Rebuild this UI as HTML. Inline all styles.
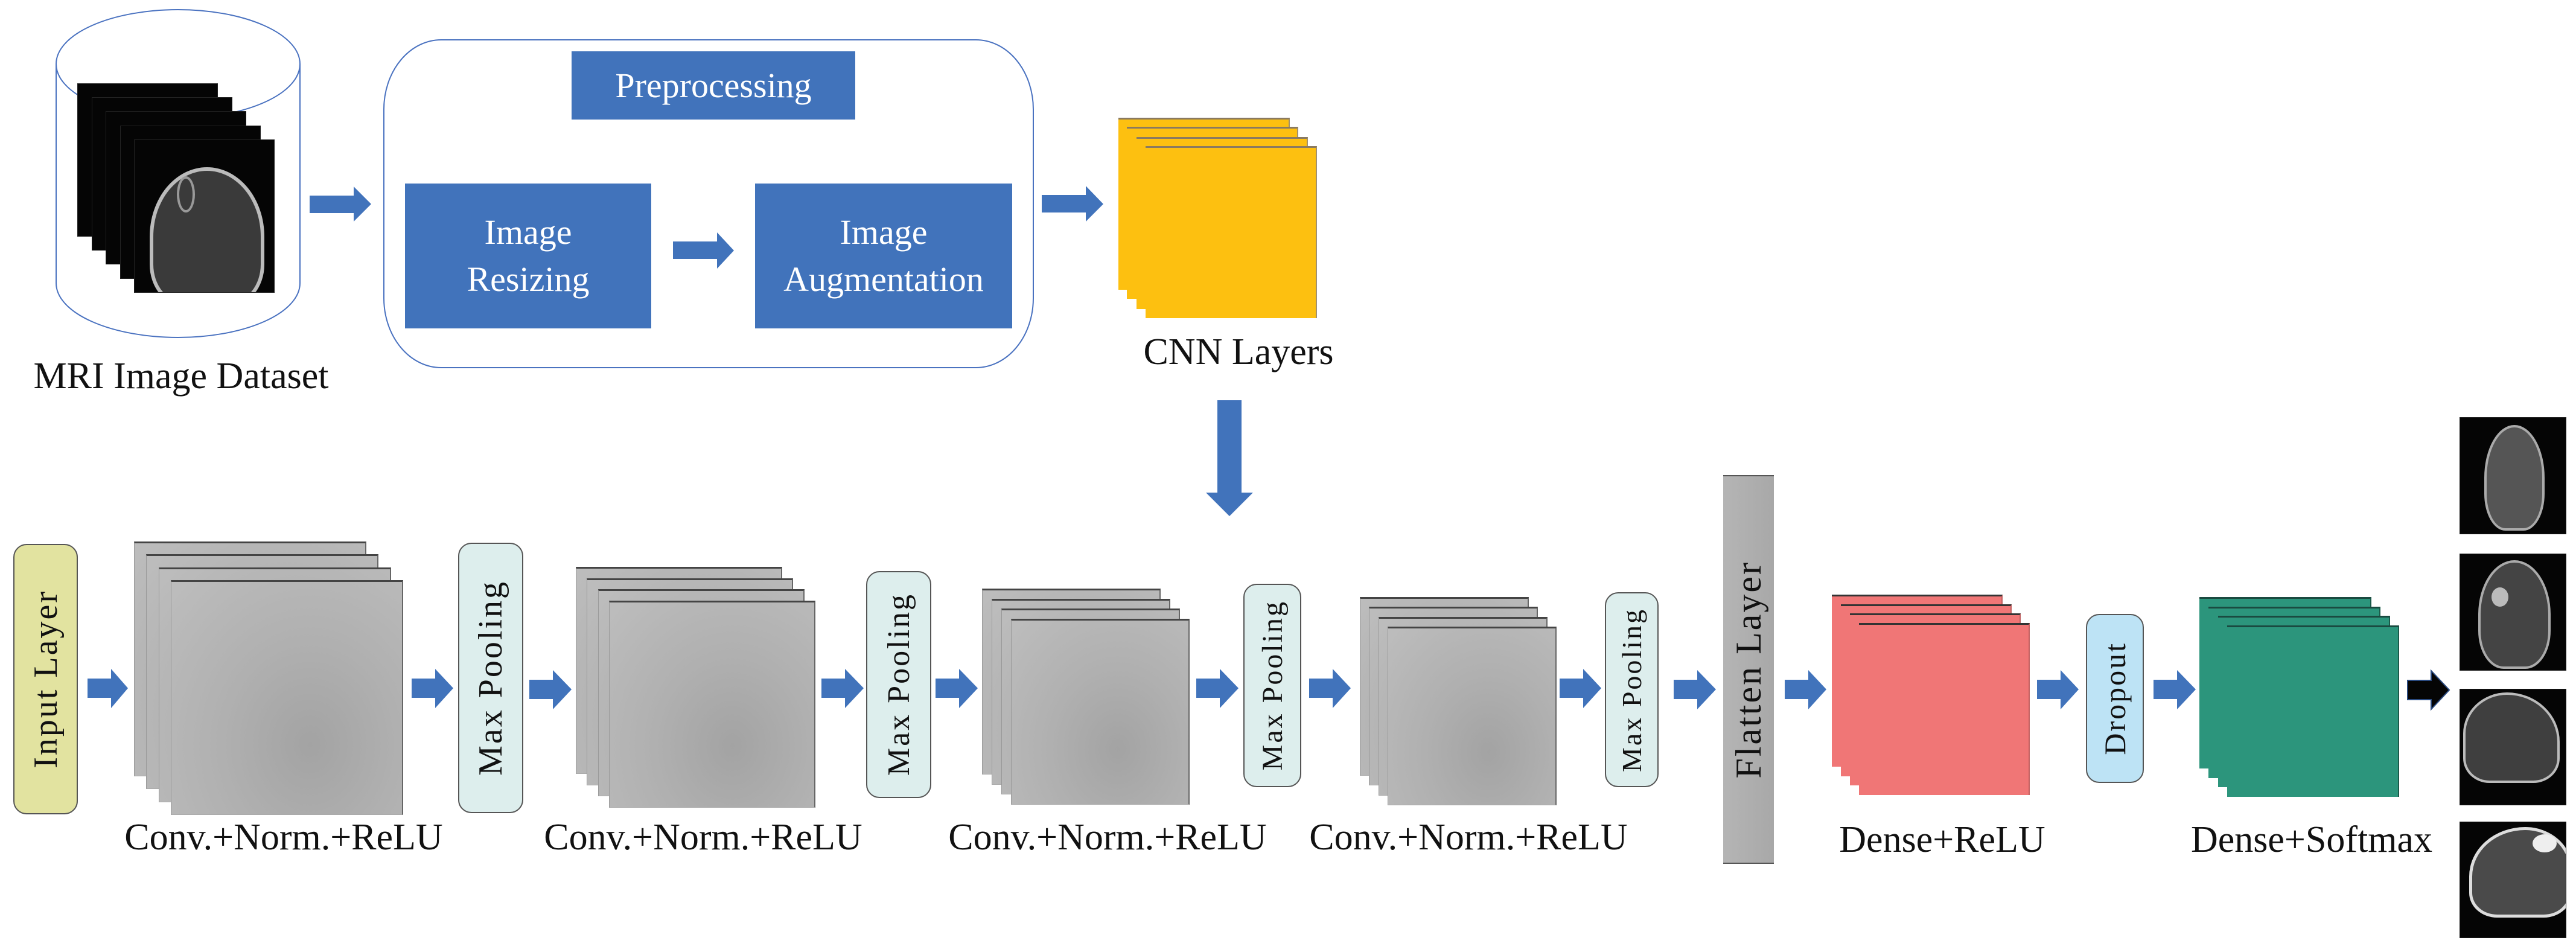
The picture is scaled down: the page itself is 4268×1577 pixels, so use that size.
<!DOCTYPE html>
<html><head><meta charset="utf-8"><style>
*{margin:0;padding:0;box-sizing:border-box}
body{width:4268px;height:1577px;background:#fff;position:relative;overflow:hidden;font-family:"Liberation Serif","Times New Roman","DejaVu Serif",serif}
.a{position:absolute}
.sg{position:absolute;background:radial-gradient(ellipse at 60% 70%,#a3a3a3 0%,#b0b0b0 45%,#bdbdbd 100%);border-top:3px solid #444;border-right:2px solid #666;border-left:1px solid #999;border-bottom:1px solid #aaa}
.sy{position:absolute;background:#fdc010;border-top:3px solid #8a7a60;border-right:2px solid #a09070}
.sr{position:absolute;background:#f07676;border-top:3px solid #333;border-right:2px solid #c06060}
.sn{position:absolute;background:#2c957c;border-top:3px solid #1a4a40;border-right:2px solid #1a5a4a}
.mri{position:absolute;background:#050505;border:1px solid #222;overflow:hidden}
.lbl{position:absolute;font-size:62px;color:#111;white-space:nowrap;text-align:center;font-family:"Liberation Serif","Times New Roman","DejaVu Serif",serif}
.blue{position:absolute;background:#4173bb;color:#fff;display:flex;align-items:center;justify-content:center;text-align:center;font-size:58px;line-height:78px;font-family:"Liberation Serif","DejaVu Serif",serif}
.vt{position:absolute;display:flex;align-items:center;justify-content:center;border:2px solid #555;border-radius:22px}
.vt span{writing-mode:vertical-rl;transform:rotate(180deg);white-space:nowrap;color:#111;letter-spacing:3px;font-family:"Liberation Serif","DejaVu Serif",serif}
</style></head><body>

<svg class="a" style="left:0;top:0" width="4268" height="1577">
<ellipse cx="295" cy="106" rx="202" ry="90" fill="none" stroke="#4a72c0" stroke-width="2"/>
<path d="M93 106 L93 469 A202 90 0 0 0 497 469 L497 106" fill="none" stroke="#4a72c0" stroke-width="2"/>
<rect x="636" y="66" width="1076" height="543" rx="95" ry="115" fill="none" stroke="#4a72c0" stroke-width="2"/>
<g fill="#4173bb">
<polygon points="513,324 586,324 586,309 615,338 586,367 586,353 513,353"/>
<polygon points="1115,400 1188,400 1188,385 1216,415 1188,445 1188,429 1115,429"/>
<polygon points="1726,323 1799,323 1799,308 1828,338 1799,367 1799,352 1726,352"/>
<polygon points="2017,663 2057,663 2057,816 2076,816 2037,855 1998,816 2017,816"/>
</g>
<g fill="#4173bb">
<polygon points="145,1124 184,1124 184,1108 212,1140 184,1173 184,1156 145,1156"/>
<polygon points="682,1124 721,1124 721,1108 751,1140 721,1173 721,1156 682,1156"/>
<polygon points="877,1126 916,1126 916,1110 947,1142 916,1175 916,1158 877,1158"/>
<polygon points="1361,1124 1400,1124 1400,1108 1431,1140 1400,1173 1400,1156 1361,1156"/>
<polygon points="1550,1124 1589,1124 1589,1108 1620,1140 1589,1173 1589,1156 1550,1156"/>
<polygon points="1982,1124 2021,1124 2021,1108 2052,1140 2021,1173 2021,1156 1982,1156"/>
<polygon points="2169,1124 2208,1124 2208,1108 2238,1140 2208,1173 2208,1156 2169,1156"/>
<polygon points="2584,1124 2623,1124 2623,1108 2653,1140 2623,1173 2623,1156 2584,1156"/>
<polygon points="2773,1126 2812,1126 2812,1110 2843,1142 2812,1175 2812,1158 2773,1158"/>
<polygon points="2957,1126 2996,1126 2996,1110 3026,1142 2996,1175 2996,1158 2957,1158"/>
<polygon points="3375,1126 3414,1126 3414,1110 3444,1142 3414,1175 3414,1158 3375,1158"/>
<polygon points="3568,1126 3607,1126 3607,1110 3638,1142 3607,1175 3607,1158 3568,1158"/>
</g>
<polygon points="3989,1127 4028,1127 4028,1111 4058,1143 4028,1175 4028,1159 3989,1159" fill="#050505" stroke="#2a4a80" stroke-width="2"/>
</svg>

<div class="mri" style="left:128px;top:138px;width:233px;height:254px"></div>
<div class="mri" style="left:152px;top:161px;width:233px;height:254px"></div>
<div class="mri" style="left:175px;top:184px;width:233px;height:254px"></div>
<div class="mri" style="left:199px;top:208px;width:233px;height:254px"></div>
<div class="mri" style="left:222px;top:231px;width:233px;height:254px">
<div class="a" style="left:25px;top:45px;width:190px;height:230px;border-radius:50% 50% 30% 30%;border:6px solid #bbb;background:#3a3a3a"></div>
<div class="a" style="left:70px;top:60px;width:30px;height:60px;border-radius:50%;border:4px solid #999"></div>
</div>

<div class="blue" style="left:947px;top:85px;width:470px;height:113px">Preprocessing</div>
<div class="blue" style="left:671px;top:304px;width:408px;height:240px">Image<br>Resizing</div>
<div class="blue" style="left:1251px;top:304px;width:426px;height:240px">Image<br>Augmentation</div>

<div class="sy" style="left:1853px;top:195px;width:284px;height:285px"></div>
<div class="sy" style="left:1867px;top:210px;width:284px;height:285px"></div>
<div class="sy" style="left:1883px;top:227px;width:284px;height:285px"></div>
<div class="sy" style="left:1898px;top:242px;width:284px;height:285px"></div>

<div class="lbl" style="left:0;width:600px;top:588px">MRI Image Dataset</div>
<div class="lbl" style="left:1852px;width:400px;top:548px">CNN Layers</div>

<div class="vt" style="left:22px;top:901px;width:107px;height:448px;background:#e2e3a0"><span style="font-size:56px">Input Layer</span></div>

<div class="sg" style="left:222px;top:897px;width:385px;height:389px"></div>
<div class="sg" style="left:242px;top:918px;width:385px;height:389px"></div>
<div class="sg" style="left:263px;top:940px;width:385px;height:389px"></div>
<div class="sg" style="left:283px;top:961px;width:385px;height:389px"></div>

<div class="vt" style="left:759px;top:899px;width:108px;height:448px;background:#ddeeed"><span style="font-size:56px">Max Pooling</span></div>

<div class="sg" style="left:954px;top:939px;width:342px;height:343px"></div>
<div class="sg" style="left:972px;top:958px;width:342px;height:343px"></div>
<div class="sg" style="left:991px;top:976px;width:342px;height:343px"></div>
<div class="sg" style="left:1009px;top:995px;width:342px;height:343px"></div>

<div class="vt" style="left:1435px;top:946px;width:108px;height:376px;background:#ddeeed"><span style="font-size:52px">Max Pooling</span></div>

<div class="sg" style="left:1627px;top:975px;width:296px;height:308px"></div>
<div class="sg" style="left:1643px;top:992px;width:296px;height:308px"></div>
<div class="sg" style="left:1659px;top:1008px;width:296px;height:308px"></div>
<div class="sg" style="left:1675px;top:1025px;width:296px;height:308px"></div>

<div class="vt" style="left:2060px;top:967px;width:96px;height:337px;background:#ddeeed"><span style="font-size:48px">Max Pooling</span></div>

<div class="sg" style="left:2253px;top:989px;width:280px;height:296px"></div>
<div class="sg" style="left:2268px;top:1005px;width:280px;height:296px"></div>
<div class="sg" style="left:2284px;top:1022px;width:280px;height:296px"></div>
<div class="sg" style="left:2299px;top:1038px;width:280px;height:296px"></div>

<div class="vt" style="left:2659px;top:981px;width:89px;height:323px;background:#ddeeed"><span style="font-size:46px">Max Pooling</span></div>

<div class="a" style="left:2855px;top:787px;width:84px;height:644px;background:linear-gradient(90deg,#b5b5b5,#a8a8a8);border-top:2px solid #555;border-bottom:2px solid #555;display:flex;align-items:center;justify-content:center"><span style="writing-mode:vertical-rl;transform:rotate(180deg);font-size:60px;letter-spacing:3px;color:#111;white-space:nowrap;font-family:'Liberation Serif','DejaVu Serif',serif">Flatten Layer</span></div>

<div class="sr" style="left:3035px;top:985px;width:283px;height:285px"></div>
<div class="sr" style="left:3050px;top:1001px;width:283px;height:285px"></div>
<div class="sr" style="left:3065px;top:1016px;width:283px;height:285px"></div>
<div class="sr" style="left:3080px;top:1032px;width:283px;height:285px"></div>

<div class="vt" style="left:3456px;top:1017px;width:96px;height:280px;background:#bde3f5"><span style="font-size:50px">Dropout</span></div>

<div class="sn" style="left:3644px;top:989px;width:285px;height:284px"></div>
<div class="sn" style="left:3659px;top:1005px;width:285px;height:284px"></div>
<div class="sn" style="left:3675px;top:1020px;width:285px;height:284px"></div>
<div class="sn" style="left:3690px;top:1036px;width:285px;height:284px"></div>

<div class="lbl" style="left:170px;width:600px;top:1352px">Conv.+Norm.+ReLU</div>
<div class="lbl" style="left:865px;width:600px;top:1352px">Conv.+Norm.+ReLU</div>
<div class="lbl" style="left:1535px;width:600px;top:1352px">Conv.+Norm.+ReLU</div>
<div class="lbl" style="left:2133px;width:600px;top:1352px">Conv.+Norm.+ReLU</div>
<div class="lbl" style="left:2968px;width:500px;top:1356px">Dense+ReLU</div>
<div class="lbl" style="left:3580px;width:500px;top:1356px">Dense+Softmax</div>

<div class="mri" style="left:4075px;top:691px;width:177px;height:194px"><div class="a" style="left:40px;top:12px;width:100px;height:175px;border-radius:50% 50% 35% 35%;border:4px solid #aaa;background:#555"></div></div>
<div class="mri" style="left:4075px;top:917px;width:177px;height:194px"><div class="a" style="left:30px;top:10px;width:120px;height:180px;border-radius:50% 50% 35% 35%;border:4px solid #aaa;background:#444"></div><div class="a" style="left:52px;top:55px;width:28px;height:32px;border-radius:50%;background:#bbb"></div></div>
<div class="mri" style="left:4075px;top:1141px;width:177px;height:193px"><div class="a" style="left:5px;top:5px;width:160px;height:150px;border-radius:50% 60% 30% 30%;border:4px solid #bbb;background:#3f3f3f"></div></div>
<div class="mri" style="left:4075px;top:1361px;width:177px;height:193px"><div class="a" style="left:15px;top:8px;width:170px;height:150px;border-radius:60% 50% 30% 30%;border:5px solid #ddd;background:#4a4a4a"></div><div class="a" style="left:120px;top:20px;width:40px;height:30px;border-radius:50%;background:#eee"></div></div>

</body></html>
